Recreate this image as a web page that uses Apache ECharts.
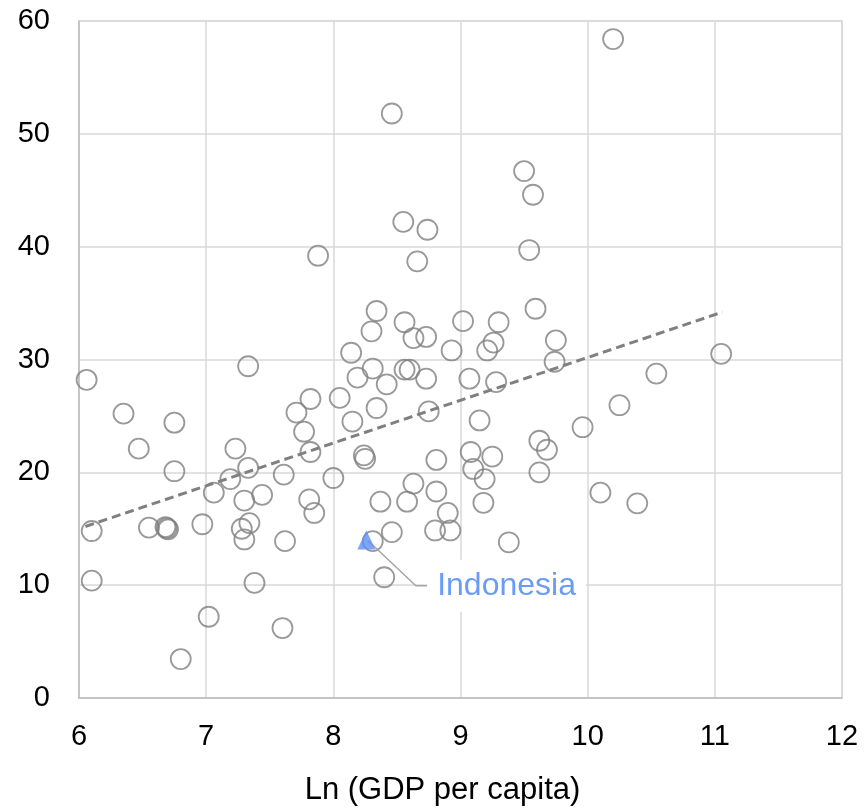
<!DOCTYPE html>
<html>
<head>
<meta charset="utf-8">
<script src="https://cdn.jsdelivr.net/npm/echarts@6/dist/echarts.min.js"></script>
<style>
html,body{margin:0;padding:0;background:#fff;}
#chart{width:864px;height:810px;}
</style>
</head>
<body>
<div id="chart"></div>
<script>
// Ln(GDP per capita) values
const lnGdp = [
  10.20, 8.46, 9.50, 9.57, 8.55, 8.74, 9.54, 7.88, 8.66, 9.59,
  8.34, 8.56, 9.02, 9.30, 8.30, 8.73, 8.63, 9.75, 9.26, 9.21,
  8.93, 8.14, 11.05, 7.33, 9.74, 8.31, 8.56, 8.60, 10.54, 6.06,
  9.07, 8.73, 8.19, 9.28, 8.42, 10.25, 8.34, 8.75, 7.71, 6.35,
  7.82, 8.05, 9.15, 6.75, 8.15, 7.77, 9.96, 9.62, 9.68, 6.47,
  7.23, 7.82, 8.24, 8.25, 9.08, 9.25, 8.81, 7.33, 6.75, 9.10,
  9.62, 7.61, 8.00, 9.19, 7.19, 8.63, 7.06, 8.81, 10.10, 7.44,
  7.81, 9.18, 10.39, 8.37, 8.58, 7.30, 7.85, 8.90, 7.34, 6.97,
  6.55, 6.68, 6.69, 6.70, 7.28, 8.80, 8.92, 8.46, 6.10, 7.30,
  7.62, 8.31, 9.38, 8.40, 6.10, 7.38, 7.02, 7.60, 6.80
];
// Y values
const yVals = [
  58.4, 51.8, 46.7, 44.6, 42.2, 41.5, 39.7, 39.2, 38.7, 34.5,
  34.3, 33.3, 33.4, 33.3, 32.5, 32.0, 31.9, 31.7, 31.5, 30.8,
  30.8, 30.6, 30.5, 29.4, 29.8, 29.2, 29.1, 29.1, 28.75, 28.2,
  28.3, 28.3, 28.4, 28.0, 27.8, 25.95, 25.7, 25.4, 25.3, 25.2,
  26.5, 26.6, 24.6, 24.4, 24.5, 23.6, 24.0, 22.8, 22.0, 22.1,
  22.1, 21.8, 21.5, 21.2, 21.8, 21.4, 21.1, 20.4, 20.1, 20.3,
  20.0, 19.8, 19.5, 19.4, 19.4, 19.0, 18.2, 18.3, 18.2, 18.0,
  17.6, 17.3, 17.25, 17.4, 17.4, 17.5, 16.4, 16.4, 15.5, 15.4,
  15.1, 15.15, 15.05, 14.95, 15.0, 14.85, 14.85, 14.7, 14.8, 14.05,
  13.9, 13.9, 13.8, 10.7, 10.4, 10.2, 7.2, 6.2, 3.45
];
// Linear trend endpoints
const trendX = [6.05, 11.06];
const trendY = [15.2, 34.2];
// Highlighted country
const highlightName = 'Indonesia';
const highlightX = 8.26;
const highlightY = 14.0;
// Leader line for annotation (data coords)
const leaderX = [8.274, 8.649, 8.738];
const leaderY = [13.93, 9.95, 9.95];

const xTicks = [6, 7, 8, 9, 10, 11, 12];
const yTicks = [0, 10, 20, 30, 40, 50, 60];

const FONT = 'Liberation Sans, Arial, sans-serif';
const chart = echarts.init(document.getElementById('chart'), null, {renderer: 'canvas'});

const pts = lnGdp.map((x, i) => [x, yVals[i]]);
const trend = trendX.map((x, i) => [x, trendY[i]]);
const leader = leaderX.map((x, i) => [x, leaderY[i]]);

chart.setOption({
  animation: false,
  backgroundColor: '#ffffff',
  grid: {
    left: 79, right: 22, top: 21, bottom: 112, show: true,
    borderColor: '#d9d9d9', borderWidth: 1.5,
    containLabel: false, outerBoundsMode: 'none'
  },
  xAxis: {
    type: 'value', min: xTicks[0], max: xTicks[xTicks.length - 1], interval: 1,
    name: 'Ln (GDP per capita)', nameLocation: 'middle', nameGap: 77,
    nameTextStyle: {fontFamily: FONT, fontSize: 31, color: '#000', padding: [0, 36, 0, 0]},
    axisLine: {show: true, lineStyle: {color: '#bfbfbf', width: 1.5}},
    axisTick: {show: false},
    axisLabel: {fontFamily: FONT, fontSize: 29, color: '#000', margin: 24},
    splitLine: {show: true, lineStyle: {color: '#d9d9d9', width: 1.5}}
  },
  yAxis: {
    type: 'value', min: yTicks[0], max: yTicks[yTicks.length - 1], interval: 10,
    axisLine: {show: true, lineStyle: {color: '#bfbfbf', width: 1.5}},
    axisTick: {show: false},
    axisLabel: {fontFamily: FONT, fontSize: 29, color: '#000', margin: 29},
    splitLine: {show: true, lineStyle: {color: '#d9d9d9', width: 1.5}}
  },
  series: [
    {
      type: 'scatter', data: pts, symbol: 'circle', symbolSize: 20,
      itemStyle: {color: 'rgba(255,255,255,0)', borderColor: '#808080', borderWidth: 1.8},
      z: 3
    },
    {
      type: 'line', data: trend, symbol: 'none', silent: true,
      lineStyle: {color: '#808080', width: 3, type: [9, 5]}, z: 4
    },
    {
      type: 'line', data: leader, symbol: 'none', silent: true,
      lineStyle: {color: '#a6a6a6', width: 1.5}, z: 5,
      label: {show: false},
      endLabel: {
        show: true, formatter: highlightName, fontFamily: FONT, fontSize: 32,
        color: '#6b9cf5', backgroundColor: '#ffffff', padding: [10, 10, 10, 10], distance: 0
      }
    },
    {
      type: 'scatter', data: [[highlightX, highlightY]], symbol: 'triangle', symbolSize: [18, 19],
      itemStyle: {color: '#5b8ef5'}, z: 6
    }
  ]
});
</script>
</body>
</html>
